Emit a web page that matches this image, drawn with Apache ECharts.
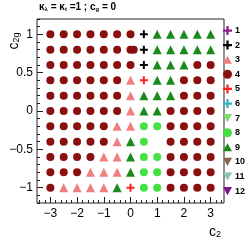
<!DOCTYPE html>
<html>
<head>
<meta charset="utf-8">
<script src="https://cdn.jsdelivr.net/npm/echarts@6/dist/echarts.min.js"></script>
<style>
html,body{margin:0;padding:0;background:#fff;}
#chart{width:249px;height:240px;}
</style>
</head>
<body>
<div id="chart"></div>
<script>
// Scan grid
const c2Values = [-3, -2.5, -2, -1.5, -1, -0.5, 0, 0.5, 1, 1.5, 2, 2.5, 3];
const c2gValues = [1, 0.8, 0.6, 0.4, 0.2, 0, -0.2, -0.4, -0.6, -0.8, -1];
// cluster id of each grid point (rows follow c2gValues, columns follow c2Values); 0 = no point
const clusterGrid = [
  [4,4,4,4,4,4,4,2,9,9,9,9,9],
  [4,4,4,4,4,4,4,2,9,9,9,9,9],
  [4,4,4,4,4,4,4,2,9,9,9,4,4],
  [4,4,4,4,4,4,3,5,9,9,4,4,4],
  [4,4,4,4,4,4,3,9,9,9,4,4,4],
  [4,4,4,4,4,4,3,9,9,4,4,4,4],
  [4,4,4,4,4,3,3,8,8,4,4,4,4],
  [4,4,4,4,4,3,9,8,0,4,4,4,4],
  [4,4,4,4,3,3,9,8,8,4,4,4,4],
  [4,4,4,3,3,3,9,8,8,4,4,4,4],
  [4,3,3,3,3,9,5,8,8,4,4,4,4]
];
// extra off-grid point (overlapping marker near c2 = 0, c2g = 0.8)
const extraPoints = [[0.12, 0.8, 4]];
const clusterNames = ['1','2','3','4','5','6','7','8','9','10','11','12'];
const yLabelTicks = [-1, -0.5, 0, 0.5, 1];
const xLabelTicks = [-3, -2, -1, 0, 1, 2, 3];

const CROSS = 'path://M3,0H5V3H8V5H5V8H3V5H0V3H3Z';
const TRI_DOWN = 'path://M0,0L10,0L5,9Z';
const TRI_UP = 'path://M5,0L10,9L0,9Z';
const clusterStyle = {
  '1': {symbol: CROSS, color: '#8b1a8b', size: 8},
  '2': {symbol: CROSS, color: '#000000', size: 8},
  '3': {symbol: TRI_UP, color: '#f08080', size: 9},
  '4': {symbol: 'circle', color: '#8a0f0f', size: 8},
  '5': {symbol: CROSS, color: '#ff2020', size: 8},
  '6': {symbol: CROSS, color: '#33b0c8', size: 8},
  '7': {symbol: TRI_DOWN, color: '#77dd66', size: 9},
  '8': {symbol: 'circle', color: '#44e044', size: 8},
  '9': {symbol: TRI_UP, color: '#1a8a1a', size: 9},
  '10': {symbol: TRI_DOWN, color: '#8b6450', size: 9},
  '11': {symbol: TRI_DOWN, color: '#88c8aa', size: 9},
  '12': {symbol: TRI_DOWN, color: '#7a1a8a', size: 9}
};

function pointsFor(id) {
  const pts = [];
  clusterGrid.forEach((row, r) => row.forEach((c, k) => {
    if (c === id) pts.push([c2Values[k], c2gValues[r]]);
  }));
  extraPoints.forEach(p => { if (p[2] === id) pts.push([p[0], p[1]]); });
  return pts;
}

function range(a, b, step) {
  const out = [];
  for (let v = a; v <= b + 1e-9; v += step) out.push(Math.round(v * 100) / 100);
  return out;
}
const yMinor = range(-1.2, 1.2, 0.1);
const xMinor = range(-3.4, 3.4, 0.2);

const series = clusterNames.map((name, i) => {
  const st = clusterStyle[name];
  return {
    name: name,
    type: 'scatter',
    data: pointsFor(i + 1),
    symbol: st.symbol,
    symbolSize: st.size,
    itemStyle: {color: st.color, opacity: 1},
    emphasis: {disabled: true},
    z: 3
  };
});

const chart = echarts.init(document.getElementById('chart'), null, {renderer: 'canvas'});
const fontFam = '"Liberation Sans", Arial, Helvetica, sans-serif';
const noLine = {show: false, onZero: false};
chart.setOption({
  animation: false,
  backgroundColor: '#ffffff',
  grid: {left: 37, right: 25, top: 19, bottom: 37, show: true, borderColor: '#222', borderWidth: 1, backgroundColor: 'transparent'},
  xAxis: [
    {
      type: 'value', min: -3.5, max: 3.5, position: 'bottom',
      axisLine: noLine,
      splitLine: {show: false},
      axisTick: {show: true, inside: true, length: 6, customValues: xLabelTicks, lineStyle: {color: '#222'}},
      axisLabel: {customValues: xLabelTicks, fontSize: 12, color: '#000', fontFamily: fontFam, margin: 5,
        formatter: v => (v < 0 ? '\u2212' + Math.abs(v) : String(v))}
    },
    {
      type: 'value', min: -3.5, max: 3.5, position: 'bottom',
      axisLine: noLine, splitLine: {show: false},
      axisTick: {show: true, inside: true, length: 3, customValues: xMinor, lineStyle: {color: '#222'}},
      axisLabel: {show: false}
    }
  ],
  yAxis: [
    {
      type: 'value', min: -1.2, max: 1.2, position: 'left',
      axisLine: noLine, splitLine: {show: false},
      axisTick: {show: true, inside: true, length: 6, customValues: yLabelTicks, lineStyle: {color: '#222'}},
      axisLabel: {customValues: yLabelTicks, fontSize: 12, color: '#000', fontFamily: fontFam, margin: 4,
        formatter: v => (v < 0 ? '\u2212' + Math.abs(v) : String(v))}
    },
    {
      type: 'value', min: -1.2, max: 1.2, position: 'left',
      axisLine: noLine, splitLine: {show: false},
      axisTick: {show: true, inside: true, length: 3, customValues: yMinor, lineStyle: {color: '#222'}},
      axisLabel: {show: false}
    }
  ],
  legend: {
    orient: 'vertical', left: 223, top: 26, padding: 0,
    itemWidth: 9, itemHeight: 9, itemGap: 5.6,
    data: clusterNames,
    textStyle: {fontSize: 9, fontWeight: 'bold', color: '#000', fontFamily: fontFam, padding: [0, 0, 0, -2]},
    selectedMode: false
  },
  graphic: [
    {
      type: 'text', left: 39, top: 2,
      style: {
        text: '{k|\u03ba}{s|\u03bb}{n| = }{k|\u03ba}{s|t}{n| =1 ; c}{s|g}{n| = 0}',
        rich: {
          k: {fontSize: 10, fontWeight: 'bold', fontFamily: fontFam, lineHeight: 13, verticalAlign: 'bottom'},
          n: {fontSize: 10, fontWeight: 'bold', fontFamily: fontFam, lineHeight: 13, verticalAlign: 'bottom'},
          s: {fontSize: 6, fontWeight: 'bold', fontFamily: fontFam, lineHeight: 10, verticalAlign: 'bottom'}
        },
        fill: '#000'
      }
    },
    {
      type: 'text', x: 13, y: 41, rotation: Math.PI / 2,
      style: {
        text: '{n|c}{s|2g}', align: 'center', verticalAlign: 'middle',
        rich: {
          n: {fontSize: 14, fontFamily: fontFam, lineHeight: 16, verticalAlign: 'bottom'},
          s: {fontSize: 9, fontFamily: fontFam, lineHeight: 11, verticalAlign: 'bottom'}
        },
        fill: '#000'
      }
    },
    {
      type: 'text', x: 215, y: 231,
      style: {
        text: '{n|c}{s|2}', align: 'center', verticalAlign: 'middle',
        rich: {
          n: {fontSize: 14, fontFamily: fontFam, lineHeight: 16, verticalAlign: 'bottom'},
          s: {fontSize: 9, fontFamily: fontFam, lineHeight: 11, verticalAlign: 'bottom'}
        },
        fill: '#000'
      }
    }
  ],
  series: series
});
</script>
</body>
</html>
